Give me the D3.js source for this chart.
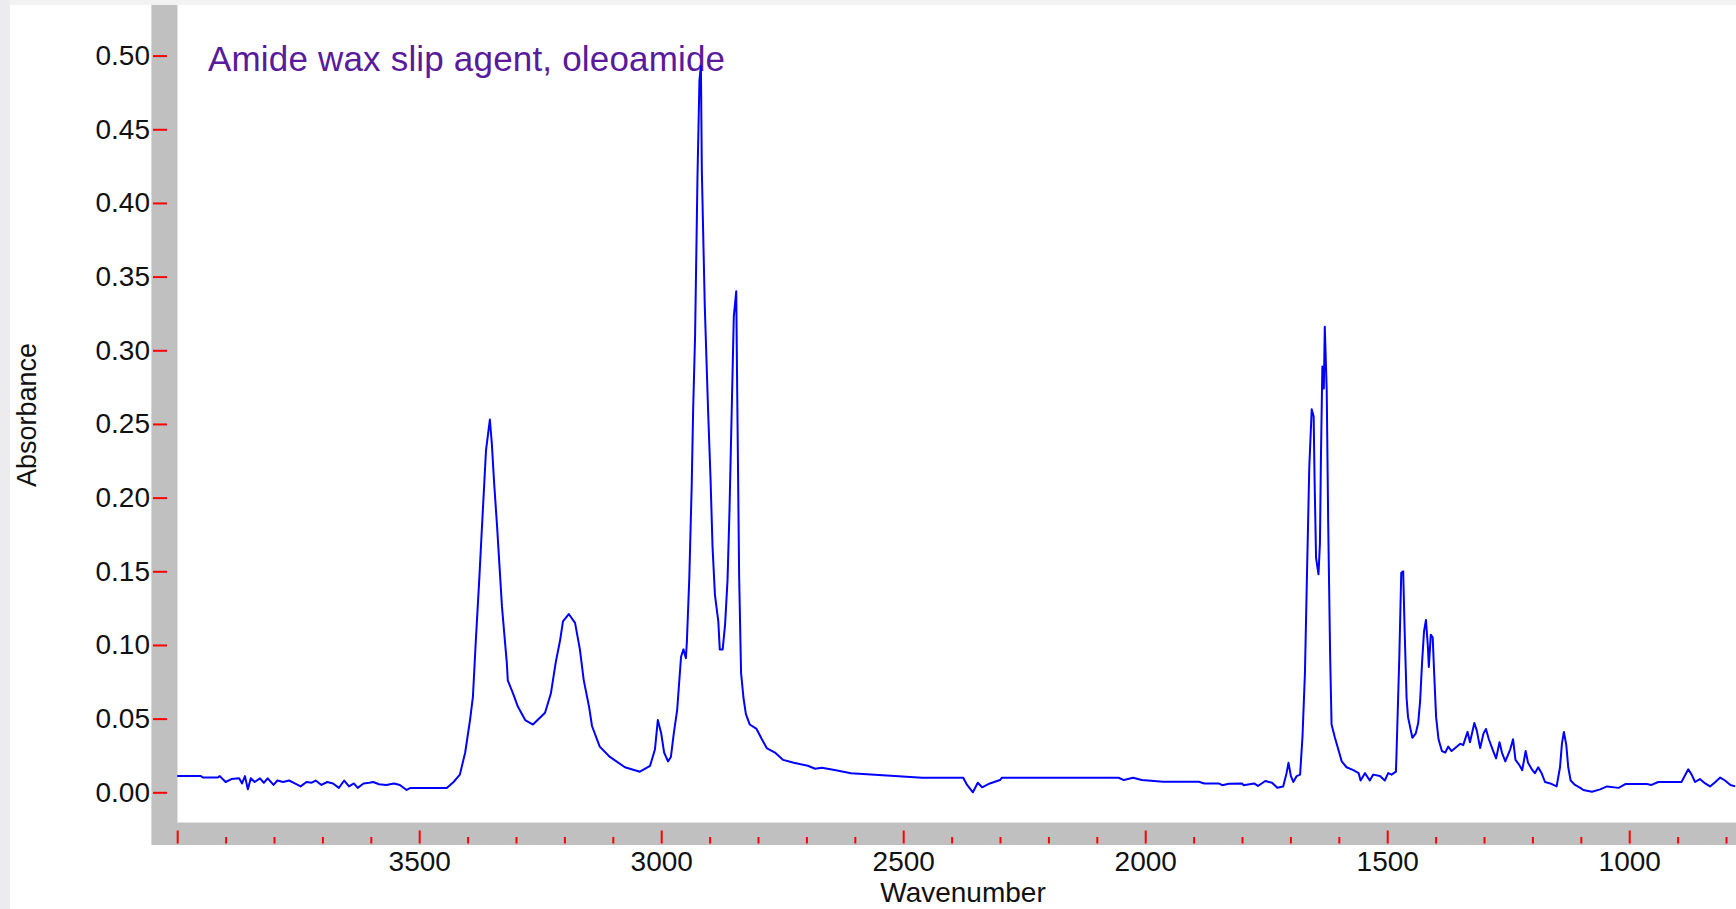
<!DOCTYPE html>
<html>
<head>
<meta charset="utf-8">
<script src="https://cdn.jsdelivr.net/npm/d3@7"></script>
<style>
  html, body { margin: 0; padding: 0; background: #ffffff; }
  svg { display: block; }
  text { font-family: "Liberation Sans", Arial, sans-serif; }
</style>
</head>
<body>
<svg id="chart" width="1736" height="909"></svg>
<script>
// ---------------- DATA ----------------
const chartTitle = "Amide wax slip agent, oleoamide";
const xAxisTitle = "Wavenumber";
const yAxisTitle = "Absorbance";

const xDomain = [4000, 780];
const yDomain = [0, 0.5];

const yTicks = [0, 0.05, 0.10, 0.15, 0.20, 0.25, 0.30, 0.35, 0.40, 0.45, 0.50];
const xMajorTicks = [4000, 3500, 3000, 2500, 2000, 1500, 1000];
const xTickLabels = [3500, 3000, 2500, 2000, 1500, 1000];
const xMinorTicks = [3900, 3800, 3700, 3600, 3400, 3300, 3200, 3100, 2900, 2800, 2700, 2600,
  2400, 2300, 2200, 2100, 1900, 1800, 1700, 1600, 1400, 1300, 1200, 1100, 900, 800];

// [wavenumber, absorbance]
const spectrum = [
  [4000,0.011],[3951,0.011],[3947,0.010],[3916,0.010],[3912,0.011],[3900,0.007],[3888,0.009],
  [3872,0.0095],[3866,0.006],[3860,0.011],[3854,0.002],[3848,0.0095],[3840,0.007],[3829,0.0095],
  [3821,0.0065],[3813,0.0095],[3801,0.005],[3793,0.008],[3781,0.007],[3769,0.008],[3757,0.006],
  [3745,0.004],[3733,0.007],[3722,0.0065],[3714,0.008],[3702,0.005],[3690,0.007],[3678,0.006],
  [3666,0.003],[3655,0.008],[3645,0.004],[3635,0.006],[3627,0.003],[3615,0.006],[3603,0.0065],
  [3595,0.007],[3583,0.0055],[3568,0.005],[3552,0.006],[3540,0.005],[3526,0.0016],[3518,0.003],
  [3443,0.003],[3429,0.007],[3416,0.012],[3405,0.027],[3395,0.049],[3389,0.065],[3383,0.103],
  [3376,0.144],[3371,0.176],[3366,0.207],[3362,0.232],[3354,0.253],[3350,0.237],[3345,0.209],
  [3339,0.180],[3334,0.153],[3329,0.126],[3323,0.103],[3319,0.088],[3317,0.076],[3306,0.067],
  [3296,0.058],[3281,0.049],[3265,0.046],[3240,0.054],[3228,0.067],[3218,0.088],[3209,0.103],
  [3203,0.116],[3191,0.121],[3178,0.115],[3168,0.097],[3160,0.076],[3149,0.058],[3143,0.045],
  [3127,0.031],[3106,0.024],[3075,0.017],[3044,0.014],[3023,0.018],[3013,0.029],[3007,0.049],
  [3000,0.040],[2994,0.027],[2986,0.021],[2980,0.024],[2974,0.040],[2967,0.056],[2963,0.074],
  [2959,0.092],[2954,0.097],[2949,0.091],[2947,0.102],[2942,0.145],[2937,0.208],[2934,0.260],
  [2930,0.310],[2925,0.419],[2921,0.483],[2918,0.493],[2916,0.421],[2910,0.330],[2903,0.258],
  [2898,0.212],[2894,0.167],[2889,0.134],[2882,0.116],[2879,0.097],[2873,0.097],[2868,0.114],
  [2863,0.144],[2859,0.190],[2854,0.264],[2850,0.323],[2845,0.340],[2843,0.273],[2839,0.147],
  [2835,0.081],[2830,0.064],[2825,0.053],[2817,0.046],[2803,0.043],[2792,0.036],[2782,0.030],
  [2765,0.027],[2748,0.022],[2726,0.020],[2697,0.018],[2682,0.016],[2668,0.0166],[2639,0.015],
  [2608,0.013],[2542,0.0115],[2461,0.0099],[2376,0.0099],[2368,0.005],[2356,0.000],[2346,0.0065],
  [2337,0.0034],[2321,0.006],[2300,0.0083],[2296,0.0099],[2055,0.0099],[2044,0.0083],
  [2025,0.0099],[2007,0.0083],[1963,0.0072],[1889,0.0072],[1878,0.006],[1848,0.006],[1841,0.0048],
  [1827,0.0058],[1800,0.006],[1797,0.0048],[1775,0.006],[1767,0.0043],[1752,0.0077],[1738,0.0065],
  [1727,0.0031],[1715,0.004],[1708,0.013],[1704,0.020],[1699,0.011],[1694,0.007],[1687,0.011],
  [1680,0.012],[1675,0.038],[1670,0.081],[1666,0.144],[1661,0.221],[1656,0.260],[1652,0.255],
  [1650,0.211],[1647,0.159],[1642,0.148],[1639,0.169],[1637,0.226],[1634,0.289],[1631,0.274],
  [1629,0.316],[1625,0.273],[1622,0.184],[1618,0.094],[1615,0.046],[1608,0.037],[1601,0.029],
  [1594,0.021],[1584,0.017],[1570,0.015],[1559,0.013],[1555,0.008],[1546,0.013],[1536,0.008],
  [1529,0.012],[1515,0.011],[1505,0.008],[1498,0.013],[1491,0.012],[1482,0.014],[1481,0.024],
  [1475,0.092],[1471,0.149],[1467,0.150],[1464,0.110],[1460,0.064],[1457,0.051],[1448,0.037],
  [1441,0.040],[1436,0.047],[1432,0.062],[1428,0.088],[1424,0.109],[1420,0.117],[1416,0.099],
  [1414,0.085],[1410,0.107],[1406,0.105],[1403,0.081],[1399,0.051],[1394,0.036],[1387,0.028],
  [1380,0.027],[1374,0.031],[1367,0.028],[1349,0.033],[1343,0.032],[1334,0.041],[1329,0.034],
  [1320,0.047],[1315,0.042],[1308,0.030],[1301,0.040],[1296,0.043],[1290,0.036],[1281,0.028],
  [1275,0.023],[1268,0.034],[1263,0.027],[1256,0.021],[1246,0.029],[1240,0.036],[1235,0.022],
  [1228,0.019],[1221,0.015],[1214,0.028],[1209,0.020],[1200,0.015],[1195,0.013],[1188,0.017],
  [1181,0.013],[1174,0.007],[1163,0.006],[1150,0.004],[1143,0.017],[1139,0.033],[1135,0.041],
  [1130,0.032],[1126,0.017],[1121,0.008],[1112,0.005],[1101,0.003],[1095,0.0016],[1077,0.0004],
  [1060,0.002],[1046,0.004],[1022,0.003],[1008,0.0056],[964,0.0056],[954,0.005],[940,0.007],
  [892,0.007],[878,0.0156],[871,0.012],[864,0.007],[854,0.009],[843,0.006],[833,0.004],
  [822,0.007],[812,0.010],[802,0.008],[791,0.005],[781,0.004]
];

// ---------------- LAYOUT ----------------
const W = 1736, H = 909;
const plot = { left: 177, top: 5, right: 1736, bottom: 822 };
const bandColor = "#c0c0c0";

const svg = d3.select("#chart");

// page background strips
svg.append("rect").attr("x", 0).attr("y", 0).attr("width", W).attr("height", H).attr("fill", "#ffffff");
svg.append("rect").attr("x", 0).attr("y", 0).attr("width", W).attr("height", 5).attr("fill", "#f2f2f2");
svg.append("rect").attr("x", 0).attr("y", 0).attr("width", 10).attr("height", H).attr("fill", "#ececee");

// gray axis bands
svg.append("rect").attr("x", 152).attr("y", 5).attr("width", 25).attr("height", 840).attr("fill", bandColor);
svg.append("rect").attr("x", 152).attr("y", 822).attr("width", W - 152).attr("height", 23).attr("fill", bandColor);
// light edges
svg.append("line").attr("x1", 177.5).attr("x2", 177.5).attr("y1", 5).attr("y2", 822).attr("stroke", "#e0e0e0").attr("stroke-width", 1);
svg.append("line").attr("x1", 177).attr("x2", W).attr("y1", 822.5).attr("y2", 822.5).attr("stroke", "#e0e0e0").attr("stroke-width", 1);
svg.append("line").attr("x1", 151.5).attr("x2", 151.5).attr("y1", 5).attr("y2", 845).attr("stroke", "#d8d8d8").attr("stroke-width", 1);

// scales
const x = d3.scaleLinear().domain(xDomain).range([177.2, 1735.7]);
const y = d3.scaleLinear().domain(yDomain).range([792.3, 55.6]);

// Y axis: red ticks on the band, labels to the left
const yAxis = d3.axisLeft(y).tickValues(yTicks).tickSize(14).tickPadding(3).tickFormat(d3.format(".2f"));
const gy = svg.append("g").attr("transform", "translate(167,0)").call(yAxis);
gy.select(".domain").remove();
gy.selectAll(".tick line").attr("stroke", "#ff0000").attr("stroke-width", 2);
gy.selectAll(".tick text").attr("fill", "#111").style("font-size", "28px")
  .style("font-family", "'Liberation Sans', Arial, sans-serif");

// X axis major ticks (pointing up from bottom of band)
const gxMaj = svg.append("g").attr("transform", "translate(0,843.5)")
  .call(d3.axisTop(x).tickValues(xMajorTicks).tickSize(13).tickFormat(""));
gxMaj.select(".domain").remove();
gxMaj.selectAll(".tick line").attr("stroke", "#ff0000").attr("stroke-width", 2);

const gxMin = svg.append("g").attr("transform", "translate(0,843.5)")
  .call(d3.axisTop(x).tickValues(xMinorTicks).tickSize(6.5).tickFormat(""));
gxMin.select(".domain").remove();
gxMin.selectAll(".tick line").attr("stroke", "#ff0000").attr("stroke-width", 2);

// X axis labels
const gxLab = svg.append("g").attr("transform", "translate(0,843)")
  .call(d3.axisBottom(x).tickValues(xTickLabels).tickSize(0).tickPadding(8).tickFormat(d3.format("d")));
gxLab.select(".domain").remove();
gxLab.selectAll(".tick text").attr("fill", "#111").style("font-size", "28px")
  .style("font-family", "'Liberation Sans', Arial, sans-serif");

// axis titles
svg.append("text").attr("x", 963).attr("y", 902).attr("text-anchor", "middle")
  .attr("fill", "#111").style("font-size", "28px").text(xAxisTitle);
svg.append("text").attr("transform", "translate(36,415) rotate(-90)").attr("text-anchor", "middle")
  .attr("fill", "#111").style("font-size", "27px").text(yAxisTitle);

// title
svg.append("text").attr("x", 208).attr("y", 71).attr("fill", "#5a1a9c")
  .style("font-size", "35px").style("letter-spacing", "0.18px").text(chartTitle);

// clip for spectrum
svg.append("clipPath").attr("id", "plotclip").append("rect")
  .attr("x", plot.left).attr("y", plot.top).attr("width", plot.right - plot.left).attr("height", plot.bottom - plot.top);

const line = d3.line().x(d => x(d[0])).y(d => y(d[1]));
svg.append("path").datum(spectrum).attr("clip-path", "url(#plotclip)")
  .attr("d", line).attr("fill", "none").attr("stroke", "#0000ff").attr("stroke-width", 2)
  .attr("stroke-linejoin", "round");
</script>
</body>
</html>
